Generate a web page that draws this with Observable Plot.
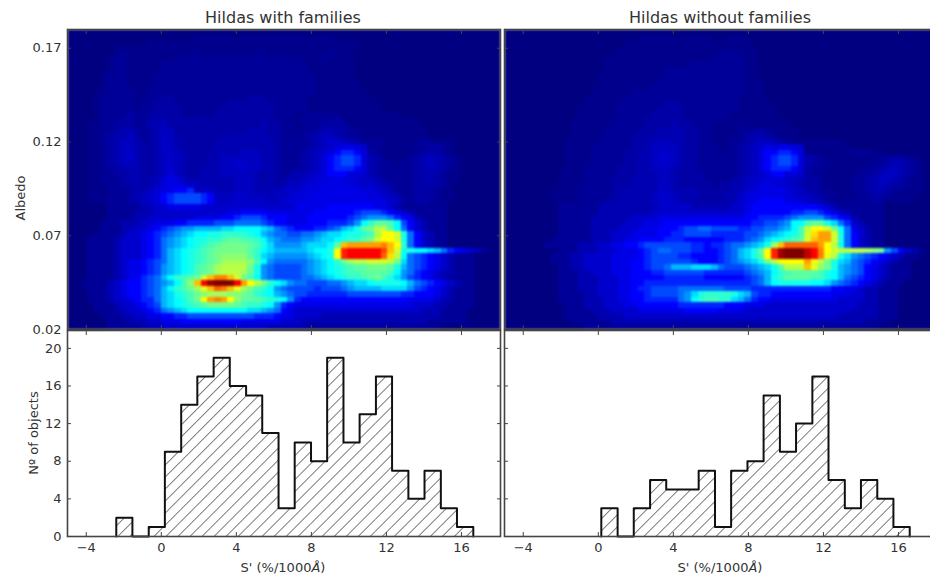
<!DOCTYPE html>
<html><head><meta charset="utf-8">
<style>
html,body{margin:0;padding:0;background:#fff;overflow:hidden}
#fig{position:relative;width:930px;height:575px;overflow:hidden;font-family:"DejaVu Sans",sans-serif;color:#333}
.t{position:absolute;white-space:nowrap;transform:translateX(-50%);color:#333}
.title{font-size:16px;top:8px}
.xl{font-size:13px;top:560px}
.yl{font-size:13px;transform:translate(-50%,-50%) rotate(-90deg)}
</style>
<script src="https://cdn.jsdelivr.net/npm/d3@7"></script>
<script src="https://cdn.jsdelivr.net/npm/@observablehq/plot@0.6"></script>
</head><body>
<svg width="0" height="0" style="position:absolute"><defs>
<pattern id="hatch" patternUnits="userSpaceOnUse" width="8.5" height="8.5" patternTransform="rotate(45)">
<line x1="0" y1="0" x2="0" y2="8.5" stroke="#444" stroke-width="1.4"/>
</pattern></defs></svg>
<div id="fig"></div>
<script>
// Tick values
const albedoTicks=[0.02,0.07,0.12,0.17];
const slopeTicks=[-4,0,4,8,12,16];
const countTicks=[0,4,8,12,16,20];
const titles=["Hildas with families","Hildas without families"];
// Histogram bin edges and counts
const leftEdges=[-2.40,-1.54,-0.67,0.19,1.06,1.92,2.79,3.65,4.52,5.38,6.25,7.11,7.98,8.84,9.71,10.57,11.44,12.30,13.17,14.03,14.90,15.76,16.63];
const leftCounts=[2,0,1,9,14,17,19,16,15,11,3,10,8,19,10,13,17,7,4,7,3,1];
const rightEdges=[0.16,1.03,1.89,2.76,3.62,4.49,5.35,6.22,7.08,7.95,8.81,9.68,10.54,11.41,12.27,13.14,14.00,14.87,15.73,16.60];
const rightCounts=[3,0,3,6,5,5,7,1,7,8,15,9,12,17,6,3,6,4,1];
// Density maps: one level per cell, 65 columns x 55 rows, top row first.
// Digits/letters are base-36 levels 0..z; . : ; ! are the half levels 0.5, 1.5, 2.5, 3.5
const halfLevels={".":0.5,":":1.5,";":2.5,"!":3.5};
const leftRows=[
"00000 00000 00000 00000 00000 00000 00000 00000 00000 00000 00000 00000 00000",
"00000 00000 00000 0000. ..... ..... ..... ..... 00000 00000 00000 00000 00000",
"00000 00000 00... ..... ..... ..... ..... ..... ....0 00000 00000 00000 00000",
"00000 00... ..... ..... ..... ..... ..... ..... ..000 00000 00000 00000 00000",
"00000 00.1. ..... ....1 ..... ...11 ..... ....1 ...00 00000 00000 00000 00000",
"00000 0.11. ..... .1111 11111 11111 11111 ...1. ...00 00000 00000 00000 00000",
"00000 0.11. ....1 11111 11111 11111 11111 1.... ...00 00000 00000 00000 00000",
"00000 0.11. ....1 11111 11111 11111 11111 1.... ...00 00000 00000 00000 00000",
"00000 .111. ...11 11111 11111 11111 11111 11... ...00 00000 00000 00000 00000",
"00000 .111. ...11 11111 11111 11111 11111 11... ....0 00000 00000 00000 00000",
"00000 .111. ..111 11111 11111 11111 11111 11... ....0 00000 00000 00000 00000",
"0000. .1111 ..111 11111 11111 11111 11111 11... ..... 00000 00000 00000 00000",
"0000. 11111 ..11: :1111 11111 11::: 11111 1.... ..... .0000 00000 00000 00000",
"0000. 11111 .11:: :1111 1111: ::::: :1111 1.... ..... ..000 00000 00000 00000",
"0000. 11111 .11:: ::111 111:: ::::: :1111 1.... ..... ..000 00000 00000 00000",
"0000. 1111: 11::: ::111 11::: ::::: :111. .1111 ..... ..... 00000 00000 00000",
"0000. 111:: 11:22 ::::: ::::: ::::: :11.. 11111 :.... ..... ..000 00000 00000",
"000.. 11::: 1122; ::::: ::::: ::::2 ::11. 111:: ::... ..... ...00 00000 00000",
"000.. 11:22 :1:2; ;:::: ::::: ::222 ::11. 11:22 ::11. ..... ....0 00000 00000",
"000.. 1:22; :1:2; ;:::: ::::2 22222 ::111 1:2;; 2:11. ..... ....0 00000 00000",
"000.. 1:2;; 21:23 ;2::: ::222 22222 2:111 1:2;3 3;2:1 11... ..111 ...00 00000",
"000.. 1:2;; 2::23 ;2::: ::222 22222 2:111 1:2;3 !44!3 11... ..11: :1.00 00000",
"000.. 1:2;3 2::2; 3;2:: ::222 2;;;2 2:111 :2;3! 5665! :1... ..1:: :1.00 00000",
"000.. 1:2;3 2::2; 3;2:: :22;; ;;;;2 2:111 :2;!5 6776! 2:1.. .1:2; 2:1.0 00000",
"000.. 1:2;; 2::2; 3;2:: :22;; 33;;2 2:111 :2;!5 6776! 2:11. 11:2; 2:1.0 00000",
"000.. 11:22 2::2; 3;2:: 222;; 33;;2 2:11: :2;!5 6665! 2:111 11:22 2:1.0 00000",
"000.. 11::2 2::2; !;2:: 222;; ;;;2: 2:1:2 2;3!5 55!!3 2:111 11:22 :1..0 00000",
"000.. 111:2 2:2;! 4!;22 22222 ;;;2: 2::22 ;3!!! 4!!3; ;2:11 11:22 :1..0 00000",
"000.. .11:: 2:2;! 44!3; 22222 ;;;22 2:2;; 3!!44 44!!3 3;2:1 11::: :1.00 00000",
"000.. .111: 22;!4 4556; 3;222 ;;;22 2;;33 !!444 4444! !3;21 11::: 1..00 00000",
"000.. .111: 2;3!5 67777 65;;; 33;;; 2;;3! !4444 44444 !!3;2 11::: 1..00 00000",
"000.. .111: 2;3!5 67777 65;;; 3333; ;;3!! 44444 44444 44!3; :1::1 1..00 00000",
"00000 01111 12233 44444 33333 33333 33334 44445 55555 54432 11111 11000 00000",
"00000 01111 22233 33333 33334 45555 44444 44555 55567 77654 32111 11000 00000",
"00000 01111 22333 33334 44455 67776 55544 45555 55678 99986 54211 11000 00000",
"00000 11122 23344 45566 66777 88887 65544 45556 6679c eggfc 75321 11000 00000",
"00000 11122 33456 7899a aaabb ccccb a8765 55667 8abdg hkkgc 85321 11000 00000",
"00001 11123 34567 89abc cddee eedca 98877 889ab bcdde fjnnl d8532 11000 00000",
"00011 11233 34568 9abcd deefg gffec a9888 99abb cdeeg hlnnl d8532 11000 00000",
"00011 11233 34568 9abcd efghh hhgfd b9999 abbbc gpqqq qqrpn e8532 11000 00000",
"00011 11233 34568 abcde fghhh hhgec baaaa abccd nuvvv vvtpl ddccb a8654 32100",
"00011 11233 34568 abcde fghii iigeb a9999 9abcd nuvvv vvsok c8765 43211 10000",
"00011 11234 45678 abcde fghjj jjifc 98888 89abc ehjkk lllkh b8765 43211 10000",
"00011 11234 45679 abcdf ghjkk kkhd9 87777 89abc defgg hhhgd a8765 43211 10000",
"00011 11234 45679 abcdf ghjkk kjgd9 87777 89abc deffg gggfc 98654 32211 10000",
"00011 11234 5678a cefgh lprrp lhfc9 87777 889ab cdeef ghfdb 97654 32111 10000",
"00111 12345 56789 acfip vyzzz vqnkh ecb98 87778 89abb cdddd ca876 54321 10000",
"00011 12345 5678a cefhj mpsrp mjhfe c9877 77677 789aa aabbb b9765 43211 10000",
"00011 12345 5678a bdefh ijjji ihged ca987 76666 66777 77777 66555 43211 10000",
"00011 12334 5668a bcdfh nqrqn igggf edc96 55555 55555 55555 54444 32211 10000",
"00001 11233 4567a bcdef ghhhh gfeed c9654 44444 44444 44444 44333 22111 10000",
"00001 11223 34568 9abcc ccccc ccbba 98543 33333 33333 33333 33322 21111 00000",
"00000 11122 33445 56677 77777 77766 65443 33322 22222 22222 22222 21111 00000",
"00000 01112 22334 44555 55555 54444 44333 22222 22222 22222 22221 11111 00000",
"00000 01111 12223 33333 33333 33333 22222 21111 11111 11111 11111 10000 00000"
];
const rightRows=[
"00000 00000 00000 00000 00000 00000 00000 00000 00000 00000 00000 00000 00000",
"00000 00000 00000 00000 ..... ..... .00.. ..000 00000 00000 00000 00000 00000",
"00000 00000 00000 000.. ..... ..... ..... ..000 00000 00000 00000 00000 00000",
"00000 00000 00000 00... ..... ..... ..... ...00 00000 00000 00000 00000 00000",
"00000 00000 00000 0.... ..... ..... ..111 1..00 00000 00000 00000 00000 00000",
"00000 00000 00000 ..... ..... ..... .1111 1..00 00000 00000 00000 00000 00000",
"00000 00000 00000 ..... ..... ...11 11111 1..00 00000 00000 00000 00000 00000",
"00000 00000 00000 ..... ....1 11111 11111 1..00 00000 00000 00000 00000 00000",
"00000 00000 0000. ..... ....1 11111 11111 1..00 00000 00000 00000 00000 00000",
"00000 00000 0000. ..... ...11 11111 11111 1...0 00000 00000 00000 00000 00000",
"00000 00000 000.. ..... ..111 11111 11111 1...0 00000 00000 00000 00000 00000",
"00000 00000 000.. ....1 11111 11111 11111 1...0 00000 00000 00000 00000 00000",
"00000 00000 00... ...11 11111 11111 11111 ....0 00000 00000 00000 00000 00000",
"00000 00000 00... ..111 1111: :1111 11111 ..... 00000 00000 00000 00000 00000",
"00000 00000 0.... ..111 111:: ::111 11111 ..... .0000 00000 00000 00000 00000",
"00000 00000 0.... ..111 11::: ::111 1111. ..... .0000 00000 00000 00000 00000",
"00000 00000 ..... .1111 1:::: ::111 111.. ..... ..000 00000 00000 00000 00000",
"00000 00000 ..... .1111 1:::: 2::11 1.... 1.... ...00 00000 00000 00000 00000",
"00000 00000 ..... 11111 :::22 22::1 1.... 11::1 ....0 00000 00000 00000 00000",
"00000 00000 ..... 1111: ::222 22::1 1.... 1:22: 1...0 00000 00000 00000 00000",
"00000 0000. ....1 1111: :22;; 22::1 1...1 1:2;; 2:1.. ..... .0000 00000 00000",
"00000 0000. ...11 1111: :2;;; ;2::1 11..1 :2;34 !44!3 ..... ..000 00000 00000",
"00000 0000. ...11 111:: 22;33 ;2::1 11.11 :2;!5 5665! ..... ..111 ..000 00000",
"00000 0000. ...11 111:: 22;33 ;2::1 11111 :2;!5 6776! 2:1.. ..... .11:: 1.000",
"00000 0000. ...11 111:: 22;33 ;2::1 11111 :2;!5 6776! 2:11. ..... 11:22 :1.00",
"00000 0000. ..111 11::: 22;;; 2:::1 11111 :2;!5 6665! :11.. ...11 1:2;2 :1.00",
"00000 000.. ..111 11::: 222;; 2:::: 11111 :2;3! 55!!3 :11.. ...11 :2;;2 :1.00",
"00000 000.. ..111 1:::2 222;; 2:::: 1111: 2;33! !!3;2 ::1.. ..11: 2;;2: 1..00",
"00000 000.. ..111 1:::2 222;; 2:::: :1::2 2;3!4 !!3;2 ::1.. ..11: 2;2:: 1..00",
"00000 00... .1111 1:222 2223; 2222: ::::2 23!44 44!3; 2:11. ..11: 22:11 ...00",
"00000 00... .1111 1:222 22;33 ;222: :::22 3!444 44!3; ;2:11 ...11 ::1.. ..000",
"00000 00... .1111 :2222 22;33 ;222: :::22 3!455 5544! 3;2:1 .1111 :1... .0000",
"00000 00011 11112 22222 22233 33322 22223 34555 55555 55432 11111 11000 00000",
"00000 00011 11112 22222 22333 33333 33333 34555 55566 77654 32111 11000 00000",
"00000 00011 11122 22223 33344 44444 44444 45566 66789 99976 54211 11000 00000",
"00000 00011 11122 22233 34445 55555 55555 55667 789cc fggdb 86321 11000 00000",
"00000 00011 11122 22333 44455 56778 87777 66778 89acf knnlh c8432 11000 00000",
"00000 00011 11122 23334 44455 66777 76666 67789 abcdf loqql d8532 11000 00000",
"00000 00111 11122 23344 55556 66555 55566 6789b cdefg lpqql d8532 11000 00000",
"00000 01111 12223 34455 67777 77766 56678 89abd jpsss ssqnk d8532 11000 00000",
"00000 00011 12223 33444 56788 77766 55678 abdgn uyzzz xvrnl kkkkj ih975 32100",
"00000 00111 22333 34444 56777 76655 55678 abdgn uyzzz xvrmk db987 65432 11000",
"00000 00111 22333 34445 56777 77765 55678 9abdh knnnn qmkhd ba876 54321 10000",
"00000 00011 22333 34445 56778 aaabb ba877 789ab dgkkk pmihd a9875 43211 10000",
"00000 00011 12233 34445 55667 77777 66666 6789a cefgg ggfdc a9875 43211 10000",
"00000 00011 12223 33445 55556 66666 55555 5678a deggg gffdc a8765 43211 10000",
"00000 00011 12223 33445 56666 66666 66666 6678a cdddd dccb9 87654 32111 00000",
"00000 00011 12223 33445 66777 78888 88877 77666 66666 66665 54432 21110 00000",
"00000 00011 11223 33445 56777 789bd eeeed ba766 55555 55554 44332 21110 00000",
"00000 00011 11222 33445 56666 689ce ffeeb a8655 44444 44444 33332 21110 00000",
"00000 00001 11222 33344 55555 56666 66655 54443 33333 33333 33322 21110 00000",
"00000 00001 11122 23333 44444 44555 55444 43333 33333 33333 33222 21110 00000",
"00000 00001 11112 22233 33333 33333 33333 33333 33333 33333 22222 21110 00000",
"00000 00000 11111 12222 22222 22222 22222 22222 22222 22222 22221 11100 00000",
"00000 00000 00111 11111 11111 11111 11111 11111 11111 11111 11111 10000 00000"
];
const COLS=65, ROWS=55;
const jetLevels=[0,5,12,17.5,23,31,35];
const jetColors=["#000080","#0000ff","#00ffff","#7fff7f","#ffff00","#ff0000","#800000"];
const xDomain=[-5,18.08], albedoDomain=[0.02,0.18], countDomain=[0,21.9];
const ink="#444";
const minus=d=>String(d).replace("-","\u2212");
const decode=rows=>rows.flatMap(r=>Array.from(r.replace(/ /g,"").padEnd(COLS,"0").slice(0,COLS),c=>c in halfLevels?halfLevels[c]:parseInt(c,36)));
const fig=document.getElementById("fig");
const place=(el,l,t)=>{el.style.position="absolute";el.style.left=l+"px";el.style.top=t+"px";el.style.maxWidth="none";el.style.overflow="visible";fig.append(el);};
const baseStyle={background:"transparent",fontFamily:"DejaVu Sans",fontSize:"13px",color:"#333"};

function heat(rows,showY,left){
  const ml=showY?67:2;
  const p=Plot.plot({
    width:ml+433+2,height:331,marginLeft:ml,marginRight:2,marginTop:29,marginBottom:2,
    style:baseStyle,
    x:{domain:xDomain,axis:null},y:{domain:albedoDomain,axis:null},
    color:{type:"linear",domain:jetLevels,range:jetColors,clamp:true},
    marks:[
      Plot.raster(decode(rows),{width:COLS,height:ROWS,x1:xDomain[0],x2:xDomain[1],y1:albedoDomain[1],y2:albedoDomain[0],imageRendering:"pixelated",clip:"frame"}),
      Plot.axisX({ticks:slopeTicks,anchor:"bottom",tickSize:-4,fill:"none",stroke:ink,label:null}),
      Plot.axisX({ticks:slopeTicks,anchor:"top",tickSize:-4,fill:"none",stroke:ink,label:null}),
      Plot.axisY({ticks:albedoTicks,anchor:"left",tickSize:-4,tickPadding:10,stroke:ink,fill:showY?"#333":"none",tickFormat:d=>d.toFixed(2),label:null}),
      Plot.axisY({ticks:albedoTicks,anchor:"right",tickSize:-4,fill:"none",stroke:ink,label:null}),
      Plot.frame({stroke:ink,strokeWidth:1.6})
    ]});
  p.querySelectorAll("image").forEach(im=>{im.style.filter="blur(1px)";});
  place(p,left,0);
}
function hist(edges,counts,showY,left){
  const ml=showY?67:2;
  const bars=counts.map((c,i)=>({x1:edges[i],x2:edges[i+1],y:c}));
  const outline=[{x:edges[0],y:0},...edges.map((e,i)=>({x:e,y:i<counts.length?counts[i]:0}))];
  const p=Plot.plot({
    width:ml+433+2,height:246,marginLeft:ml,marginRight:2,marginTop:1,marginBottom:39,
    style:baseStyle,
    x:{domain:xDomain,axis:null},y:{domain:countDomain,axis:null},
    marks:[
      Plot.rectY(bars.filter(b=>b.y>0),{x1:"x1",x2:"x2",y:"y",fill:"url(#hatch)",inset:0}),
      Plot.line(outline,{x:"x",y:"y",curve:"step-after",stroke:"#111",strokeWidth:2}),
      Plot.axisX({ticks:slopeTicks,anchor:"bottom",tickSize:-4,tickPadding:10,stroke:ink,fill:"#333",tickFormat:minus,label:null}),
      Plot.axisX({ticks:slopeTicks,anchor:"top",tickSize:-4,fill:"none",stroke:ink,label:null}),
      Plot.axisY({ticks:countTicks,anchor:"left",tickSize:-4,tickPadding:10,stroke:ink,fill:showY?"#333":"none",label:null}),
      Plot.axisY({ticks:countTicks,anchor:"right",tickSize:-4,fill:"none",stroke:ink,label:null}),
      Plot.frame({stroke:ink,strokeWidth:1.6})
    ]});
  place(p,left,329);
}
heat(leftRows,true,0);
heat(rightRows,false,502);
hist(leftEdges,leftCounts,true,0);
hist(rightEdges,rightCounts,false,502);

const label=(cls,html,l,t)=>{const d=document.createElement("div");d.className="t "+cls;d.innerHTML=html;d.style.left=l+"px";if(t!=null)d.style.top=t+"px";fig.append(d);};
label("title",titles[0],283);
label("title",titles[1],720);
label("xl","S' (%/1000<i>Å</i>)",283);
label("xl","S' (%/1000<i>Å</i>)",720);
label("yl","Albedo",20,198);
label("yl","Nº of objects",33,433);
</script>
</body></html>
